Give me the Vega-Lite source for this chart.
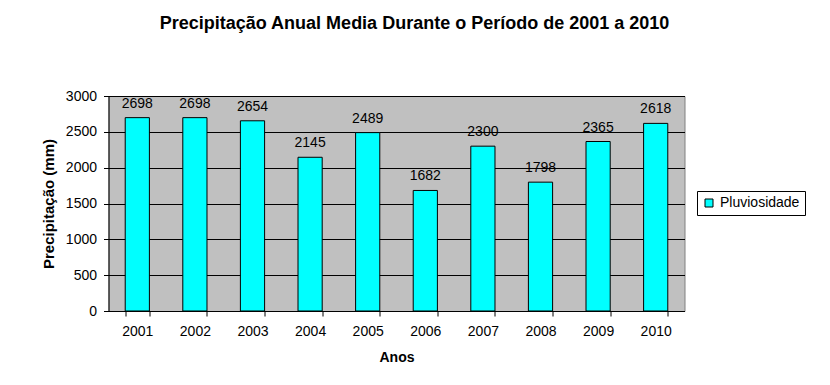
{
  "$schema": "https://vega.github.io/schema/vega-lite/v6.json",
  "width": 576,
  "height": 215,
  "autosize": "none",
  "padding": {"left": 108.5, "top": 96, "right": 145.5, "bottom": 74},
  "background": "white",
  "config": {
    "font": "Liberation Sans",
    "view": {"fill": "#C0C0C0", "stroke": "#808080", "strokeWidth": 1}
  },
  "title": {
    "text": "Precipitação Anual Media Durante o Período de 2001 a 2010",
    "font": "Liberation Sans",
    "fontSize": 18,
    "fontWeight": "bold",
    "color": "black",
    "anchor": "middle",
    "dx": 18,
    "offset": 56
  },
  "data": {
    "values": [
      {"ano": "2001", "valor": 2698, "serie": "Pluviosidade"},
      {"ano": "2002", "valor": 2698, "serie": "Pluviosidade"},
      {"ano": "2003", "valor": 2654, "serie": "Pluviosidade"},
      {"ano": "2004", "valor": 2145, "serie": "Pluviosidade"},
      {"ano": "2005", "valor": 2489, "serie": "Pluviosidade"},
      {"ano": "2006", "valor": 1682, "serie": "Pluviosidade"},
      {"ano": "2007", "valor": 2300, "serie": "Pluviosidade"},
      {"ano": "2008", "valor": 1798, "serie": "Pluviosidade"},
      {"ano": "2009", "valor": 2365, "serie": "Pluviosidade"},
      {"ano": "2010", "valor": 2618, "serie": "Pluviosidade"}
    ]
  },
  "encoding": {
    "x": {
      "field": "ano",
      "type": "nominal",
      "scale": {"paddingInner": 0.58, "paddingOuter": 0.29},
      "axis": {
        "title": "Anos",
        "titleFont": "Liberation Sans",
        "titleFontSize": 14,
        "titleFontWeight": "bold",
        "titleColor": "black",
        "titlePadding": 12,
        "labelAngle": 0,
        "labelFont": "Liberation Sans",
        "labelFontSize": 14,
        "labelColor": "black",
        "labelPadding": 8,
        "tickBand": "extent",
        "tickSize": 5,
        "tickColor": "black",
        "domainColor": "black",
        "grid": false
      }
    },
    "y": {
      "field": "valor",
      "type": "quantitative",
      "scale": {"domain": [0, 3000], "nice": false},
      "axis": {
        "title": "Precipitação (mm)",
        "titleFont": "Liberation Sans",
        "titleFontSize": 15,
        "titleFontWeight": "bold",
        "titleColor": "black",
        "titlePadding": 9,
        "values": [0, 500, 1000, 1500, 2000, 2500, 3000],
        "format": "d",
        "labelFont": "Liberation Sans",
        "labelFontSize": 14,
        "labelColor": "black",
        "labelPadding": 7,
        "tickSize": 5,
        "tickColor": "black",
        "domainColor": "black",
        "gridColor": "black",
        "gridOpacity": 1,
        "gridWidth": 1
      }
    }
  },
  "layer": [
    {
      "mark": {"type": "bar", "stroke": "black", "strokeWidth": 1},
      "encoding": {
        "color": {
          "field": "serie",
          "type": "nominal",
          "scale": {"range": ["#00FFFF"]},
          "legend": {
            "title": null,
            "orient": "none",
            "legendX": 588.5,
            "legendY": 95,
            "strokeColor": "black",
            "fillColor": "white",
            "padding": 5,
            "symbolType": "square",
            "symbolSize": 64,
            "symbolStrokeColor": "black",
            "symbolStrokeWidth": 1,
            "labelFont": "Liberation Sans",
            "labelFontSize": 14,
            "labelColor": "black",
            "labelOffset": 4
          }
        }
      }
    },
    {
      "mark": {"type": "text", "baseline": "bottom", "dy": -7, "font": "Liberation Sans", "fontSize": 14, "color": "black"},
      "encoding": {"text": {"field": "valor", "type": "quantitative"}}
    }
  ]
}
